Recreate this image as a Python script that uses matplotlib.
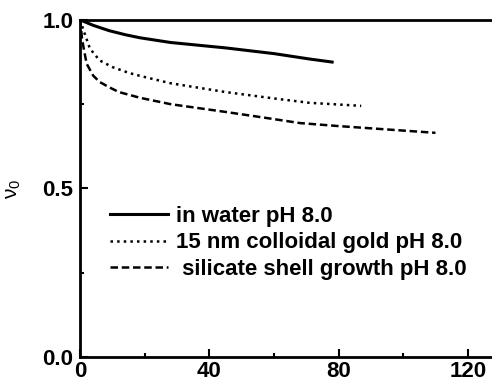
import numpy as np
import matplotlib.pyplot as plt

plt.rcParams['font.family'] = ['Liberation Sans', 'DejaVu Sans']
plt.rcParams['font.weight'] = 'bold'
plt.rcParams['mathtext.default'] = 'regular'

# time axis and v0 values
x_water = [0, 4, 9, 14, 18.5, 28, 45, 60, 71, 78]
v_water = [1.0, 0.984, 0.968, 0.956, 0.947, 0.933, 0.917, 0.9, 0.884, 0.875]

x_gold = [0, 1, 3, 6, 10, 15, 18.5, 28, 45, 60, 71, 80, 87]
v_gold = [1.0, 0.97, 0.915, 0.88, 0.86, 0.843, 0.834, 0.812, 0.786, 0.767, 0.754, 0.749, 0.745]

x_shell = [0, 0.5, 1, 2, 4, 6, 9, 12, 18.5, 28, 45, 57, 68, 80, 95, 110]
v_shell = [1.0, 0.95, 0.92, 0.87, 0.835, 0.816, 0.8, 0.786, 0.769, 0.75, 0.727, 0.71, 0.694, 0.685, 0.675, 0.665]

labels = ['in water pH 8.0', '15 nm colloidal gold pH 8.0', ' silicate shell growth pH 8.0']

fig = plt.figure(figsize=(4.92, 3.83), dpi=100)
ax = fig.add_axes([0.163, 0.068, 0.837, 0.88])

ax.plot(x_water, v_water, '-', color='black', lw=2.2, label=labels[0])
ax.plot(x_gold, v_gold, ':', color='black', lw=1.8, label=labels[1])
ax.plot(x_shell, v_shell, '--', color='black', lw=1.8, dashes=(3, 1.5), label=labels[2])

ax.set_xlim(0, 127.5)
ax.set_ylim(0, 1.0)
ax.set_xticks([0, 40, 80, 120])
ax.set_xticks([20, 60, 100], minor=True)
ax.set_yticks([0.0, 0.5, 1.0])
ax.set_yticks([0.25, 0.75], minor=True)
ax.tick_params(which='both', direction='in', width=1.5, labelsize=16)
ax.tick_params(axis='x', pad=3)
ax.tick_params(axis='y', pad=5)
ax.tick_params(which='major', length=6)
ax.tick_params(which='minor', length=3)
ax.spines['right'].set_visible(False)
for s in ['left', 'top', 'bottom']:
    ax.spines[s].set_linewidth(2)

ax.set_ylabel('ν$_0$', fontsize=15, fontweight='normal', labelpad=0)
ax.yaxis.set_label_coords(-0.14, 0.5)

ax.legend(loc='upper left', bbox_to_anchor=(0.052, 0.475), frameon=False,
          handlelength=2.6, handletextpad=0.35, labelspacing=0.25,
          borderaxespad=0, prop={'weight': 'bold', 'size': 16})

plt.savefig('out.png', dpi=100)
